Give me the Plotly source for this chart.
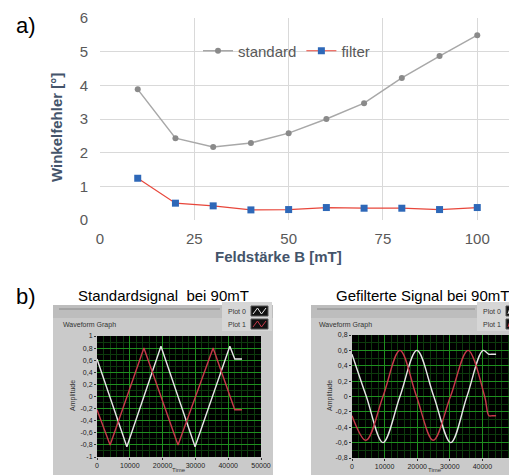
import plotly.graph_objects as go

# page body has an 8px margin: figure is sized so it fills the 517x475 window exactly
OFF = 8
W, H = 517 - OFF, 475 - OFF
def px(x): return (x - OFF) / W
def py(y): return 1 - (y - OFF) / H

# ---- data: chart a ----
field_mT = [10, 20, 30, 40, 50, 60, 70, 80, 90, 100]
err_standard = [3.88, 2.43, 2.17, 2.29, 2.58, 3.0, 3.47, 4.22, 4.87, 5.49]
err_filter = [1.24, 0.5, 0.42, 0.3, 0.31, 0.37, 0.35, 0.35, 0.31, 0.37]
x_ticks_a = [0, 25, 50, 75, 100]

# ---- data: chart b (waveforms) ----
std_t0 = [0, 9100, 19500, 29900, 40500, 42000, 44200]
std_y0 = [0.62, -0.83, 0.83, -0.83, 0.83, 0.62, 0.62]
std_t1 = [0, 4000, 14300, 24700, 35400, 42000, 44200]
std_y1 = [-0.22, -0.8, 0.8, -0.8, 0.8, -0.22, -0.22]

fil_t0 = [0, 4400, 9500, 14700, 19900, 25100, 30300, 35250, 40200, 42000, 43000, 44200]
fil_y0 = [0.55, 0.0, -0.6, 0.0, 0.6, 0.0, -0.6, 0.0, 0.6, 0.55, 0.55, 0.55]
fil_t1 = [0, 4300, 9500, 14700, 19800, 24900, 30200, 35600, 40700, 42000, 43000, 44200]
fil_y1 = [-0.25, -0.57, 0.0, 0.6, 0.0, -0.57, 0.0, 0.6, 0.0, -0.25, -0.25, -0.25]

time_ticks = [0, 10000, 20000, 30000, 40000, 50000]
time_labels = ["0", "10000", "20000", "30000", "40000", "50000"]
amp_ticks_l = [-1, -0.8, -0.6, -0.4, -0.2, 0, 0.2, 0.4, 0.6, 0.8, 1]
amp_labels_l = ["-1", "-0,8", "-0,6", "-0,4", "-0,2", "0", "0,2", "0,4", "0,6", "0,8", "1"]
amp_ticks_r = [-0.8, -0.6, -0.4, -0.2, 0, 0.2, 0.4, 0.6, 0.8]
amp_labels_r = ["-0,8", "-0,6", "-0,4", "-0,2", "0", "0,2", "0,4", "0,6", "0,8"]

FONT = "Liberation Sans, Arial, sans-serif"
WHITE_LINE = "#e6e6e6"
RED_LINE = "#c83a4a"

fig = go.Figure()

fig.add_trace(go.Scatter(x=field_mT, y=err_standard, name="standard", mode="lines+markers",
                         line=dict(color="#a8a8a8", width=1.5),
                         marker=dict(symbol="circle", size=6, color="#8a8a8a"),
                         xaxis="x", yaxis="y"))
fig.add_trace(go.Scatter(x=field_mT, y=err_filter, name="filter", mode="lines+markers",
                         line=dict(color="#e8463a", width=1.2),
                         marker=dict(symbol="square", size=7, color="#2e68b8"),
                         xaxis="x", yaxis="y"))

for t, yv, c, ax, ay, shp in [
    (std_t0, std_y0, WHITE_LINE, "x2", "y2", "linear"),
    (std_t1, std_y1, RED_LINE, "x2", "y2", "linear"),
    (fil_t0, fil_y0, WHITE_LINE, "x3", "y3", "spline"),
    (fil_t1, fil_y1, RED_LINE, "x3", "y3", "spline"),
]:
    fig.add_trace(go.Scatter(x=t, y=yv, mode="lines", showlegend=False,
                             line=dict(color=c, width=1.4, shape=shp, smoothing=1.0),
                             xaxis=ax, yaxis=ay, hoverinfo="skip"))

shapes = []
def rect(x0, y0, x1, y1, fill, line=None):
    shapes.append(dict(type="rect", xref="paper", yref="paper", layer="below",
                       x0=px(x0), x1=px(x1), y0=py(y1), y1=py(y0),
                       fillcolor=fill, line=dict(width=0 if line is None else 1,
                                                 color=line or fill)))
def seg(x0, y0, x1, y1, color, width=1):
    shapes.append(dict(type="line", xref="paper", yref="paper", layer="below",
                       x0=px(x0), x1=px(x1), y0=py(y0), y1=py(y1),
                       line=dict(color=color, width=width)))
def zig(x0, y0, x1, y1, color):
    xm = (x0 + x1) / 2
    pts = [(x0, y1), (xm - 2, y0), (xm + 2, y1), (x1, y0)]
    path = "M " + " L ".join(f"{px(a):.5f},{py(b):.5f}" for a, b in pts)
    shapes.append(dict(type="path", xref="paper", yref="paper", path=path,
                       line=dict(color=color, width=1)))

# LabVIEW-like panels
for (pl, pr, bl, br, bt, bb, lg) in [(53, 273, 97, 261, 336, 457, 222),
                                     (311, 517, 352, 517, 335, 458, 477)]:
    rect(pl, 305, pr, 475, "#cacaca")
    rect(pl, 305, pr, 318, "#bdbdbd")
    seg(pl + 6, 309, lg - 2, 309, "#8a8a8a", 1)
    rect(lg, 302, min(lg + 50, 517), 331, "#d6d6d6")
    rect(lg + 29, 306, min(lg + 46, 517), 316, "#111111", "#555555")
    rect(lg + 29, 319, min(lg + 46, 517), 329, "#111111", "#555555")
    rect(bl, bt, br, bb, "#000000")
    zig(lg + 31, 308, min(lg + 44, 516), 314, "#e8e8e8")
    zig(lg + 31, 321, min(lg + 44, 516), 327, RED_LINE)

annotations = [
    dict(text="a)", x=px(14), y=py(26), xanchor="left", yanchor="middle", font=dict(size=22, color="#000")),
    dict(text="b)", x=px(14), y=py(296), xanchor="left", yanchor="middle", font=dict(size=22, color="#000")),
    dict(text="<b>Winkelfehler [°]</b>", x=px(57), y=py(128), textangle=-90, xanchor="center", yanchor="middle",
         font=dict(size=15, color="#44546a")),
    dict(text="<b>Feldstärke B [mT]</b>", x=px(278), y=py(256), xanchor="center", yanchor="middle",
         font=dict(size=15, color="#44546a")),
    dict(text="Standardsignal  bei 90mT", x=px(163), y=py(295), xanchor="center", yanchor="middle",
         font=dict(size=15, color="#000")),
    dict(text="Gefilterte Signal bei 90mT", x=px(422), y=py(295), xanchor="center", yanchor="middle",
         font=dict(size=15, color="#000")),
]
for (wx, ax_x, lg, tx) in [(61, 73, 222, 179), (317, 330, 477, 435)]:
    annotations.append(dict(text="Waveform Graph", x=px(wx), y=py(325), xanchor="left", yanchor="middle",
                            font=dict(size=7, color="#333")))
    annotations.append(dict(text="Amplitude", x=px(ax_x), y=py(396), textangle=-90, xanchor="center",
                            yanchor="middle", font=dict(size=7, color="#333")))
    annotations.append(dict(text="Plot 0", x=px(lg + 26), y=py(311), xanchor="right", yanchor="middle",
                            font=dict(size=7, color="#333")))
    annotations.append(dict(text="Plot 1", x=px(lg + 26), y=py(324), xanchor="right", yanchor="middle",
                            font=dict(size=7, color="#333")))
    annotations.append(dict(text="Time", x=px(tx), y=py(475), xanchor="center", yanchor="bottom",
                            font=dict(size=6, color="#333")))
for a in annotations:
    a.update(xref="paper", yref="paper", showarrow=False)
    a["font"]["family"] = FONT

lv_x = dict(range=[0, 50000], tickvals=time_ticks, ticktext=time_labels, showgrid=True,
            gridcolor="#1f8f1f", gridwidth=1, zeroline=False, showline=False, automargin=False,
            ticks="outside", ticklen=2, tickcolor="#333",
            tickfont=dict(size=7, color="#222", family=FONT),
            minor=dict(dtick=2000, showgrid=True, gridcolor="#0d3a0d", gridwidth=1, ticks=""))
lv_y = dict(showgrid=True, gridcolor="#1f8f1f", gridwidth=1, zeroline=False, showline=False, automargin=False,
            ticks="outside", ticklen=2, tickcolor="#333",
            tickfont=dict(size=7, color="#222", family=FONT),
            minor=dict(dtick=0.1, showgrid=True, gridcolor="#0d3a0d", gridwidth=1, ticks=""))

fig.update_layout(
    template="none",
    width=W, height=H, margin=dict(l=0, r=0, t=0, b=0, pad=0),
    paper_bgcolor="white", plot_bgcolor="rgba(0,0,0,0)",
    font=dict(family=FONT),
    showlegend=True, hovermode=False,
    legend=dict(orientation="h", x=px(198), y=py(51), xanchor="left", yanchor="middle",
                bgcolor="rgba(0,0,0,0)", font=dict(size=15, color="#595959", family=FONT),
                tracegroupgap=0),
    xaxis=dict(domain=[px(100), px(515)], range=[0, 110], tickvals=x_ticks_a, automargin=False,
               showgrid=True, gridcolor="#d9d9d9", zeroline=False, showline=False,
               ticks="outside", ticklen=5, tickcolor="rgba(0,0,0,0)",
               tickfont=dict(size=15, color="#595959"), anchor="y"),
    yaxis=dict(domain=[py(220), py(18)], range=[0, 6], dtick=1, automargin=False,
               showgrid=True, gridcolor="#d9d9d9", zeroline=False, showline=False,
               ticks="outside", ticklen=8, tickcolor="rgba(0,0,0,0)",
               tickfont=dict(size=15, color="#595959"), anchor="x"),
    xaxis2=dict(domain=[px(97), px(261)], anchor="y2", **lv_x),
    yaxis2=dict(domain=[py(457), py(336)], range=[-1, 1], tickvals=amp_ticks_l, ticktext=amp_labels_l,
                anchor="x2", **lv_y),
    xaxis3=dict(domain=[px(352), px(515)], anchor="y3", **lv_x),
    yaxis3=dict(domain=[py(458), py(335)], range=[-0.8, 0.8], tickvals=amp_ticks_r, ticktext=amp_labels_r,
                anchor="x3", **lv_y),
    shapes=shapes, annotations=annotations,
)

fig.write_html("out.html")
